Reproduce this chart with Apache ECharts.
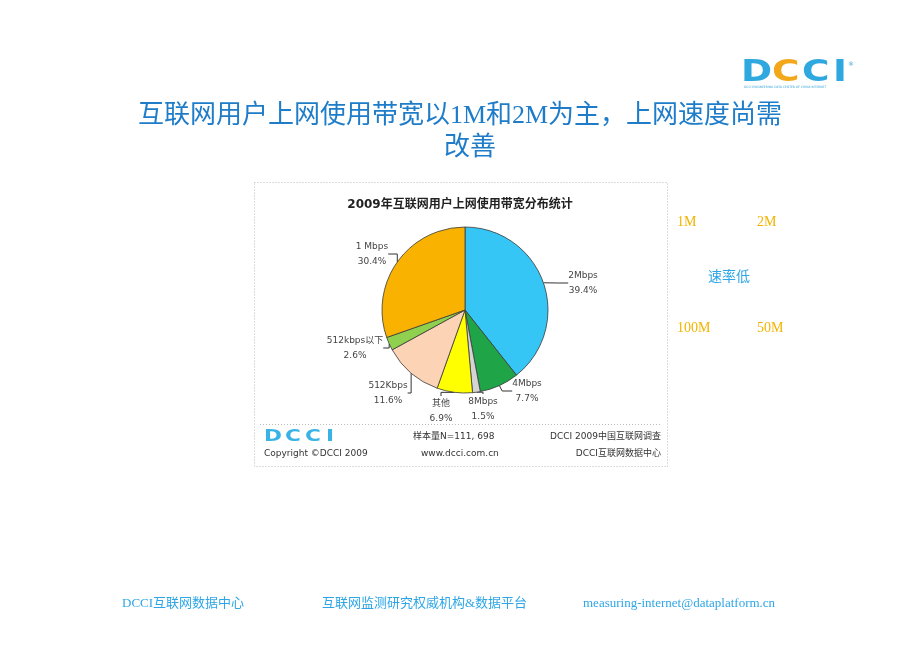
<!DOCTYPE html>
<html><head><meta charset="utf-8">
<script src="https://cdn.jsdelivr.net/npm/echarts@6/dist/echarts.min.js"></script>
<style>html,body{margin:0;padding:0;background:#fff}#c{width:920px;height:651px}</style>
</head><body><div id="c"></div>
<script>
const categories = ['2Mbps','4Mbps','8Mbps','其他','512Kbps','512kbps以下','1 Mbps'];
const shares = [39.4, 7.7, 1.5, 6.9, 11.6, 2.6, 30.4];
const sliceColors = ['#35c6f6','#1fa548','#d4d4d4','#ffff00','#fcd3b5','#8fd14f','#f9b200'];
const labelSpots = [[583,283],[527,391],[483,409],[441,411],[388,393],[355,348],[372,254]];
const slideTitle = ['互联网用户上网使用带宽以1M和2M为主，上网速度尚需','改善'];
const chartTitle = '2009年互联网用户上网使用带宽分布统计';
const sideTexts = ['1M','2M','速率低','100M','50M'];
const footerTexts = ['DCCI互联网数据中心','互联网监测研究权威机构&数据平台','measuring-internet@dataplatform.cn'];
const boxTexts = ['样本量N=111, 698','DCCI 2009中国互联网调查','Copyright ©DCCI 2009','www.dcci.com.cn','DCCI互联网数据中心'];

const chart = echarts.init(document.getElementById('c'), null, {renderer:'canvas'});
const serif = '"Liberation Serif","Noto Sans CJK SC",serif';
const small = '"DejaVu Sans","Noto Sans CJK SC",sans-serif';
const blue = '#1e7cc8', orange = '#f2b400', lblue = '#2ea6e6';

const logo = (xs, y, size, sx, colors) => {
  const letters = ['D','C','C','I'];
  return letters.map((t,i)=>({type:'text', x: xs[i], y: y, scaleX: sx,
    style:{text:t, font:'bold '+size+'px "DejaVu Sans"', fill:colors[i], textVerticalAlign:'middle'}}));
};

const graphic = [
  {type:'text', left:'center', top:103, style:{text:slideTitle[0], font:'26px '+serif, fill:blue}},
  {type:'text', left:444, top:135, style:{text:slideTitle[1], font:'26px '+serif, fill:blue}},
  {type:'rect', shape:{x:254.5,y:182.5,width:413,height:284}, style:{fill:'none', stroke:'#bbb', lineWidth:1, lineDash:[1,2]}},
  {type:'text', left:'center', top:199, style:{text:chartTitle, font:'bold 12px '+small, fill:'#222'}},
  {type:'line', shape:{x1:260,y1:424.5,x2:662,y2:424.5}, style:{stroke:'#bbb', lineDash:[1,2]}},
  {type:'text', left:413, top:432, style:{text:boxTexts[0], font:'9px '+small, fill:'#333'}},
  {type:'text', right:920-661, top:432, style:{text:boxTexts[1], font:'9px '+small, fill:'#333'}},
  {type:'text', left:264, top:449, style:{text:boxTexts[2], font:'9px '+small, fill:'#333'}},
  {type:'text', left:421, top:449, style:{text:boxTexts[3], font:'9px '+small, fill:'#333'}},
  {type:'text', right:920-661, top:449, style:{text:boxTexts[4], font:'9px '+small, fill:'#333'}},
  {type:'text', left:677, top:215, style:{text:sideTexts[0], font:'14px '+serif, fill:orange}},
  {type:'text', left:757, top:215, style:{text:sideTexts[1], font:'14px '+serif, fill:orange}},
  {type:'text', left:708, top:270, style:{text:sideTexts[2], font:'14px '+serif, fill:lblue}},
  {type:'text', left:677, top:321, style:{text:sideTexts[3], font:'14px '+serif, fill:orange}},
  {type:'text', left:757, top:321, style:{text:sideTexts[4], font:'14px '+serif, fill:orange}},
  {type:'text', left:122, top:597, style:{text:footerTexts[0], font:'13px '+serif, fill:lblue}},
  {type:'text', left:322, top:597, style:{text:footerTexts[1], font:'13px '+serif, fill:lblue}},
  {type:'text', left:583, top:597, style:{text:footerTexts[2], font:'13px '+serif, fill:lblue}},
  {type:'text', left:744, top:86, style:{text:'DCCI ENGINEERING DATA CENTER OF CHINA INTERNET', font:'3px '+small, fill:'#3aa6d8'}},
  {type:'text', left:848, top:61, style:{text:'®', font:'6px '+small, fill:'#3aa6d8'}}
].concat(logo([741,772,802,833], 73, 30, 1.25, ['#2fa8e0','#f2a81a','#2fa8e0','#2fa8e0']))
 .concat(logo([264,285,305,326], 437, 16, 1.35, ['#39b3e6','#39b3e6','#39b3e6','#39b3e6']));

chart.setOption({
  animation:false,
  graphic: graphic,
  series:[{
    type:'pie', center:[465,310], radius:83, startAngle:90, clockwise:true,
    avoidLabelOverlap:false,
    data: categories.map((n,i)=>({name:n, value:shares[i], itemStyle:{color:sliceColors[i]}})),
    itemStyle:{borderColor:'#3a3a3a', borderWidth:0.8},
    label:{show:true, position:'outside', formatter:'{b}\n{c}%', fontSize:9, fontFamily:small, color:'#444', lineHeight:15, align:'center'},
    labelLine:{show:true, length:8, length2:10, lineStyle:{color:'#333', width:1}},
    labelLayout: function(p){ const s = labelSpots[p.dataIndex]; return {x:s[0], y:s[1], align:'center', verticalAlign:'middle'}; }
  }]
});
</script></body></html>
